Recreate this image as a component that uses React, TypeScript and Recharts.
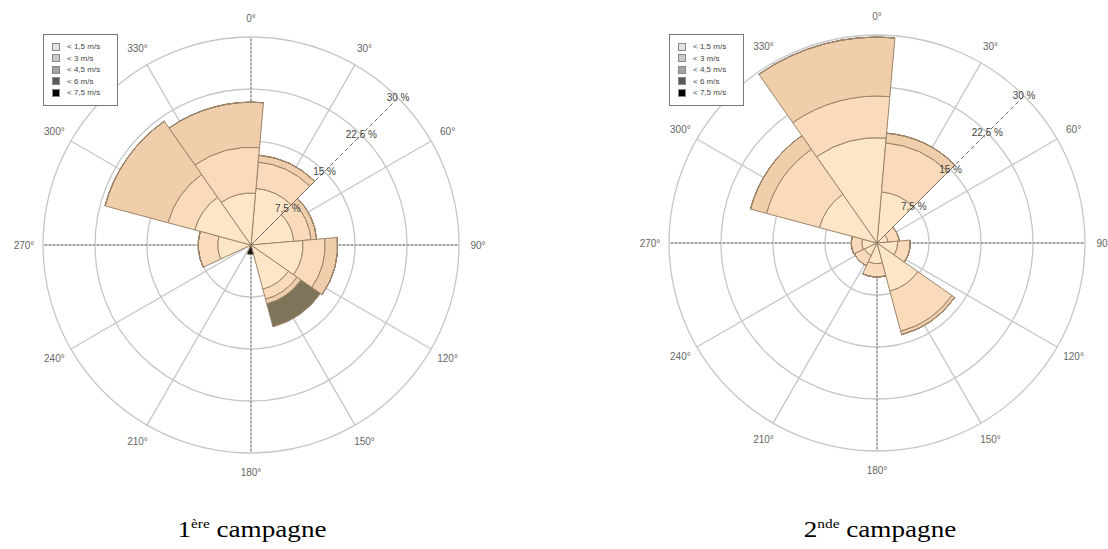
import React from "react";
import {
  RadarChart,
  RadialBarChart,
  RadialBar,
  PolarGrid,
  PolarAngleAxis,
  PolarRadiusAxis,
} from "recharts";

// wind direction sectors, 40° wide, the first one starting at 5°
const sectors = [
  "5-45",
  "45-85",
  "85-125",
  "125-165",
  "165-205",
  "205-245",
  "245-285",
  "285-325",
  "325-5",
];
const directions = [0, 30, 60, 90, 120, 150, 180, 210, 240, 270, 300, 330];
const radiusTicks = [0, 7.5, 15, 22.5, 30];
const speedClasses = ["< 1,5 m/s", "< 3 m/s", "< 4,5 m/s", "< 6 m/s", "< 7,5 m/s"];
const classColors = ["#fde5c8", "#f9dbbb", "#f0cdab", "#7e745a", "#151515"];
const legendMarkers = ["#e2e2e2", "#c9c9c9", "#a3a3a3", "#5a5a5a", "#000000"];

// 1ère campagne, % of time per sector for each speed class
const camp1Lt15 = [8.2, 6.2, 7.5, 6.6, 0, 0, 4.8, 8.4, 7.5];
const camp1Lt3 = [3.8, 2.5, 3.2, 1.5, 0, 0, 2.8, 4.0, 6.6];
const camp1Lt45 = [1.0, 0.8, 1.8, 0.7, 0, 0, 0, 9.4, 6.5];
const camp1Lt6 = [0, 0, 0, 3.4, 0, 0, 0, 0, 0];
const camp1Lt75 = [0, 0, 0, 0, 1.4, 0, 0, 0, 0];

// 2nde campagne
const camp2Lt15 = [7.4, 1.6, 3.0, 7.2, 3.0, 2.0, 2.2, 8.6, 15.2];
const camp2Lt3 = [7.1, 1.6, 1.8, 6.0, 1.9, 1.6, 1.5, 7.9, 6.0];
const camp2Lt45 = [1.4, 0, 0, 0.5, 0, 0, 0, 2.4, 8.5];
const camp2Lt6 = [0, 0, 0, 0, 0, 0, 0, 0, 0];
const camp2Lt75 = [0, 0, 0, 0, 0, 0, 0, 0, 0];

const W = 554;
const H = 549;
const R = 208;

const buildData = (series: number[][]) =>
  sectors.map((sector, i) => {
    const row: Record<string, string | number> = { sector };
    series.forEach((arr, k) => {
      row[`c${k}`] = arr[i];
    });
    return row;
  });

const data1 = buildData([camp1Lt15, camp1Lt3, camp1Lt45, camp1Lt6, camp1Lt75]);
const data2 = buildData([camp2Lt15, camp2Lt3, camp2Lt45, camp2Lt6, camp2Lt75]);

const AngleTick = (props: any) => (
  <text
    x={props.x}
    y={props.y}
    textAnchor="middle"
    dominantBaseline="central"
    fontSize={10}
    fill="#666"
  >
    {props.payload.value}°
  </text>
);

const RadiusTick = (props: any) => {
  if (!props.payload.value) return <g />;
  return (
    <text
      x={props.x}
      y={props.y}
      textAnchor="middle"
      dominantBaseline="central"
      fontSize={10}
      fill="#444"
    >
      {String(props.payload.value).replace(".", ",")} %
    </text>
  );
};

const noMargin = { top: 0, right: 0, bottom: 0, left: 0 };

const WindRose = ({ data, cx, cy }: { data: any[]; cx: number; cy: number }) => {
  const gridData = directions.map((d) => ({ dir: d }));
  const mainAxes = directions.filter((d) => d % 90 === 0).map((d) => 90 - d);
  return (
    <div style={{ position: "relative", width: W, height: H }}>
      <div style={{ position: "absolute", left: 0, top: 0 }}>
        <RadarChart
          width={W}
          height={H}
          data={gridData}
          cx={cx}
          cy={cy}
          outerRadius={R}
          startAngle={90}
          endAngle={-270}
          margin={noMargin}
        >
          <PolarGrid gridType="circle" stroke="#c6c6c6" strokeWidth={1.3} />
          <PolarGrid
            gridType="circle"
            polarAngles={mainAxes}
            polarRadius={[]}
            stroke="#777"
            strokeDasharray="2 2"
          />
          <PolarAngleAxis
            dataKey="dir"
            tickLine={false}
            axisLine={false}
            tickSize={19}
            tick={AngleTick}
          />
          <PolarRadiusAxis
            angle={45}
            type="number"
            domain={[0, 30]}
            allowDataOverflow
            ticks={radiusTicks}
            axisLine={false}
            tickLine={false}
            tick={false}
          />
        </RadarChart>
      </div>
      <div style={{ position: "absolute", left: 0, top: 0 }}>
        <RadialBarChart
          width={W}
          height={H}
          data={data}
          cx={cx}
          cy={cy}
          innerRadius={0}
          outerRadius={R}
          startAngle={45}
          endAngle={-315}
          layout="centric"
          barCategoryGap={0}
          margin={noMargin}
        >
          <PolarAngleAxis type="category" dataKey="sector" tick={false} axisLine={false} tickLine={false} />
          {speedClasses.map((name, k) => (
            <RadialBar
              key={name}
              dataKey={`c${k}`}
              name={name}
              stackId="v"
              fill={classColors[k]}
              stroke="#9b8469"
              strokeWidth={1}
              isAnimationActive={false}
            />
          ))}
          <PolarRadiusAxis
            angle={45}
            type="number"
            domain={[0, 30]}
            allowDataOverflow
            ticks={radiusTicks}
            axisLine={{ stroke: "#666", strokeDasharray: "4 3" }}
            tickLine={false}
            tick={RadiusTick}
          />
        </RadialBarChart>
      </div>
      <div
        style={{
          position: "absolute",
          left: cx - R,
          top: 34,
          width: 75,
          boxSizing: "border-box",
          border: "1px solid #777",
          background: "#fff",
          padding: "6px 4px 6px 8px",
          fontSize: 8,
          lineHeight: "11.5px",
          color: "#444",
        }}
      >
        {speedClasses.map((n, k) => (
          <div key={n} style={{ display: "flex", alignItems: "center" }}>
            <span
              style={{
                display: "inline-block",
                width: 6,
                height: 6,
                background: legendMarkers[k],
                border: "1px solid #888",
                marginRight: 7,
              }}
            />
            {n}
          </div>
        ))}
      </div>
    </div>
  );
};

const Caption = ({ num, sup, centerX }: { num: string; sup: string; centerX: number }) => (
  <div
    style={{
      position: "absolute",
      top: 518,
      left: centerX - 150,
      width: 300,
      textAlign: "center",
      fontFamily: '"Liberation Serif", "Times New Roman", serif',
      fontSize: 23,
      lineHeight: "23px",
      color: "#000",
      transform: "scaleX(1.18)",
      whiteSpace: "nowrap",
    }}
  >
    {num}
    <span style={{ fontSize: 13, position: "relative", top: -9 }}>{sup}</span> campagne
  </div>
);

export default function App() {
  return (
    <div
      style={{
        position: "absolute",
        left: 0,
        top: 0,
        width: 1108,
        height: 549,
        overflow: "hidden",
        background: "#fff",
        fontFamily: '"Liberation Sans", Arial, sans-serif',
      }}
    >
      <div style={{ position: "absolute", left: 0, top: 0 }}>
        <WindRose data={data1} cx={251} cy={245} />
      </div>
      <div style={{ position: "absolute", left: 554, top: 0 }}>
        <WindRose data={data2} cx={323} cy={243} />
      </div>
      <Caption num="1" sup="ère" centerX={252} />
      <Caption num="2" sup="nde" centerX={880} />
    </div>
  );
}
